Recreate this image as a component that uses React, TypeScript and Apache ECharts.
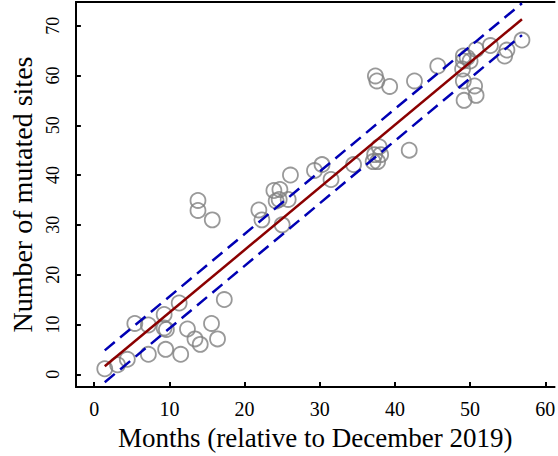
import React, { useEffect, useRef } from "react";
import * as echarts from "echarts";

const monthsX = [
  1.4, 3.1, 4.4, 5.4, 7.2, 7.2, 9.3, 9.3, 9.6, 9.5, 11.3, 11.5, 12.4, 13.4, 14.1, 15.6, 16.4, 17.3,
  13.8, 13.8, 15.7, 21.9, 22.3, 23.9, 24.7, 24.2, 24.6, 25.8, 25.0, 26.1,
  29.3, 30.3, 31.5, 34.5, 37.4, 37.6, 39.3, 42.6, 45.7,
  37.3, 37.9, 37.7, 37.1, 38.1, 41.9,
  49.1, 49.6, 49.1, 50.0, 49.0, 49.1, 50.6, 50.8, 49.2, 50.8, 52.7, 54.9, 54.6, 56.9,
];
const sitesY = [
  1.1, 1.9, 3.0, 10.2, 9.9, 4.0, 12.0, 9.3, 9.0, 5.0, 14.3, 4.0, 9.1, 7.1, 6.0, 10.2, 7.1, 15.0,
  34.9, 32.9, 31.0, 33.0, 31.0, 36.9, 37.1, 34.8, 35.1, 35.1, 30.0, 40.0,
  40.9, 42.1, 39.1, 42.1, 59.9, 58.9, 57.8, 58.9, 61.9,
  44.1, 45.7, 42.7, 42.7, 44.1, 45.0,
  63.9, 63.6, 62.9, 62.9, 61.3, 58.9, 57.9, 56.0, 55.0, 65.2, 66.0, 65.1, 63.9, 67.1,
];

const fitX = [1.4, 56.9];
const fitY = [1.6, 71.3];
const upperY = [4.8, 74.5];
const lowerY = [-1.6, 68.1];

const xTicks = [0, 10, 20, 30, 40, 50, 60];
const yTicks = [0, 10, 20, 30, 40, 50, 60, 70];

const FONT = "Liberation Serif";

export default function App() {
  const ref = useRef<HTMLDivElement>(null);
  useEffect(() => {
    if (!ref.current) return;
    const chart = echarts.init(ref.current, null, { renderer: "svg" });
    const pts = monthsX.map((x, i) => [x, sitesY[i]]);
    const line = (ys: number[]) => fitX.map((x, i) => [x, ys[i]]);
    chart.setOption({
      animation: false,
      grid: { left: 62, top: 2, right: 0, bottom: 64 },
      xAxis: [
        {
          type: "value",
          min: -2.44,
          max: 61.24,
          name: "Months (relative to December 2019)",
          nameLocation: "middle",
          nameGap: 33,
          nameTextStyle: { fontFamily: FONT, fontSize: 27, color: "#000" },
          axisLine: { show: true, onZero: false, lineStyle: { color: "#000", width: 2 } },
          axisTick: { show: true, inside: true, length: 5, customValues: xTicks, lineStyle: { color: "#000", width: 2 } },
          axisLabel: { customValues: xTicks, margin: 12, fontFamily: FONT, fontSize: 20, color: "#000" },
          splitLine: { show: false },
        },
        {
          type: "value",
          position: "top",
          min: -2.44,
          max: 61.24,
          axisLine: { show: true, onZero: false, lineStyle: { color: "#000", width: 2 } },
          axisTick: { show: false },
          axisLabel: { show: false },
          splitLine: { show: false },
        },
      ],
      yAxis: {
        type: "value",
        min: -2.58,
        max: 74.75,
        name: "Number of mutated sites",
        nameLocation: "middle",
        nameGap: 29,
        nameTextStyle: { fontFamily: FONT, fontSize: 28, color: "#000" },
        axisLine: { show: true, onZero: false, lineStyle: { color: "#000", width: 2 } },
        axisTick: { show: true, inside: true, length: 5, customValues: yTicks, lineStyle: { color: "#000", width: 2 } },
        axisLabel: { customValues: yTicks, rotate: 90, margin: 14, fontFamily: FONT, fontSize: 18, color: "#000" },
        splitLine: { show: false },
      },
      series: [
        {
          type: "scatter",
          data: pts,
          symbol: "circle",
          symbolSize: 15,
          itemStyle: { color: "rgba(0,0,0,0)", borderColor: "#7f7f7f", borderWidth: 1.8 },
          z: 2,
        },
        {
          type: "line",
          data: line(fitY),
          symbol: "none",
          lineStyle: { color: "#8b0000", width: 2.5 },
          z: 3,
        },
        {
          type: "line",
          data: line(upperY),
          symbol: "none",
          lineStyle: { color: "#0000b4", width: 2.5, type: [13, 7] },
          z: 3,
        },
        {
          type: "line",
          data: line(lowerY),
          symbol: "none",
          lineStyle: { color: "#0000b4", width: 2.5, type: [13, 7] },
          z: 3,
        },
      ],
    });
    return () => chart.dispose();
  }, []);
  return (
    <div
      ref={ref}
      style={{ position: "fixed", left: 0, top: 0, width: 558, height: 456, background: "#fff" }}
    />
  );
}
